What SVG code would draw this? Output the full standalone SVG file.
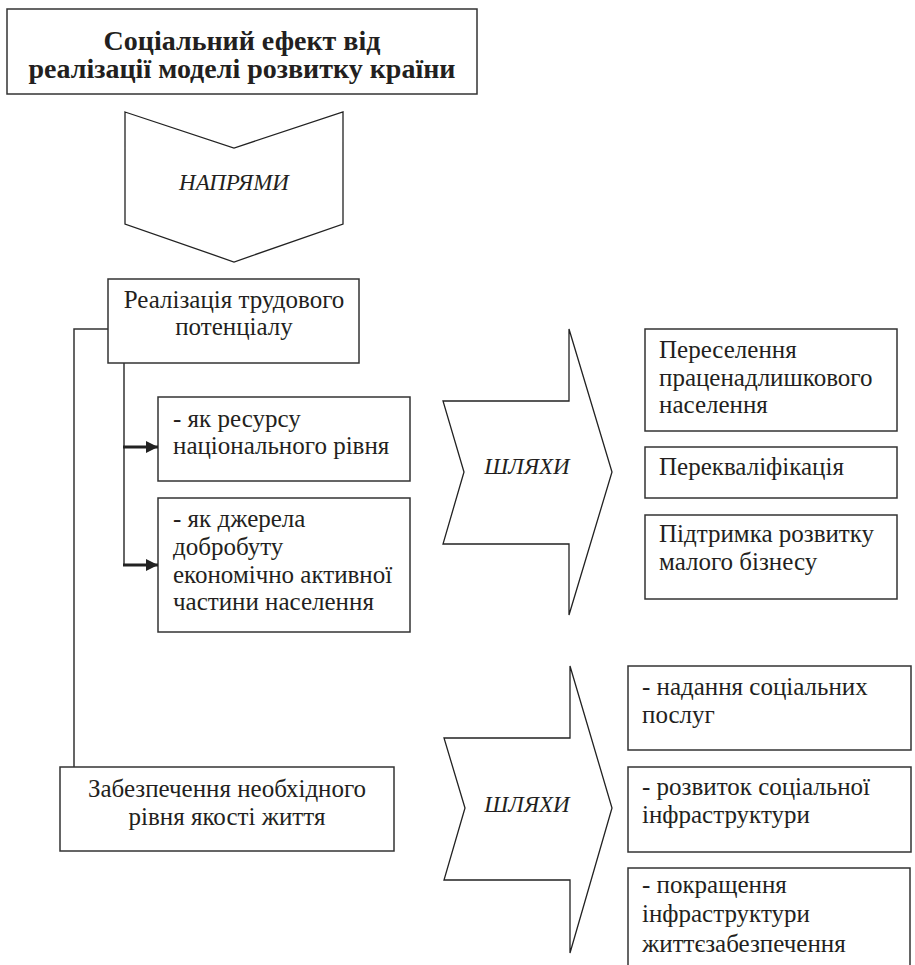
<svg xmlns="http://www.w3.org/2000/svg" width="915" height="965" viewBox="0 0 915 965">
<defs>
<style>
.box{fill:#fff;stroke:#333;stroke-width:1.5}
.shape{fill:#fff;stroke:#222;stroke-width:1.3}
.t{font-size:25px;fill:#231f20}
.title{font-size:28px;font-weight:bold;fill:#231f20}
.it{font-size:23px;font-style:italic;fill:#231f20}
.c{text-anchor:middle}
.line{fill:none;stroke:#333;stroke-width:1.5}
.thick{fill:none;stroke:#222;stroke-width:3}
</style>
<marker id="ah" viewBox="0 0 10 10" refX="10" refY="5" markerWidth="4" markerHeight="4" markerUnits="strokeWidth" orient="auto">
<path d="M0,0 L10,5 L0,10 z" fill="#222"/>
</marker>
</defs>
<rect width="915" height="965" fill="#fff"/>
<g font-family="'Liberation Serif', Tinos, 'Times New Roman', serif">
<g id="title">
<rect class="box" x="7" y="9" width="470" height="85"/>
<text class="title c" x="242" y="50">Соціальний ефект від</text>
<text class="title c" x="242" y="78">реалізації моделі розвитку країни</text>
</g>

<g id="napryamy">
<polygon class="shape" points="125,112 234,148 343,112 343,224 234,262 125,224"/>
<text class="it c" x="234" y="190">НАПРЯМИ</text>
</g>

<g id="labour">
<rect class="box" x="108" y="279" width="251" height="84"/>
<text class="t c" x="234" y="308">Реалізація трудового</text>
<text class="t c" x="234" y="335">потенціалу</text>
</g>

<g id="resource">
<rect class="box" x="158" y="397" width="252" height="84"/>
<text class="t" x="173" y="427">- як ресурсу</text>
<text class="t" x="173" y="454">національного рівня</text>
</g>

<g id="wellbeing">
<rect class="box" x="158" y="498" width="252" height="134"/>
<text class="t" x="173" y="527">- як джерела</text>
<text class="t" x="173" y="555">добробуту</text>
<text class="t" x="173" y="583">економічно активної</text>
<text class="t" x="173" y="610">частини населення</text>
</g>

<g id="quality">
<rect class="box" x="60" y="767" width="334" height="84"/>
<text class="t c" x="227" y="797">Забезпечення необхідного</text>
<text class="t c" x="227" y="825">рівня якості життя</text>
</g>

<g id="shlyakhy1">
<polygon class="shape" points="443,401 569,401 569,329 612,472 569,615 569,544 443,544 464,472"/>
<text class="it c" x="527" y="474">ШЛЯХИ</text>
</g>

<g id="shlyakhy2">
<polygon class="shape" points="444,738 570,738 570,666 612,808 570,953 570,880 444,880 465,808"/>
<text class="it c" x="527" y="812">ШЛЯХИ</text>
</g>

<g id="resettle">
<rect class="box" x="645" y="329" width="252" height="102"/>
<text class="t" x="659" y="358">Переселення</text>
<text class="t" x="659" y="386">праценадлишкового</text>
<text class="t" x="659" y="413">населення</text>
</g>

<g id="retrain">
<rect class="box" x="645" y="447" width="252" height="51"/>
<text class="t" x="659" y="475">Перекваліфікація</text>
</g>

<g id="smallbiz">
<rect class="box" x="645" y="515" width="252" height="84"/>
<text class="t" x="659" y="542">Підтримка розвитку</text>
<text class="t" x="659" y="570">малого бізнесу</text>
</g>

<g id="services">
<rect class="box" x="628" y="666" width="283" height="84"/>
<text class="t" x="642" y="695">- надання соціальних</text>
<text class="t" x="642" y="723">послуг</text>
</g>

<g id="socinfra">
<rect class="box" x="628" y="767" width="283" height="85"/>
<text class="t" x="642" y="795">- розвиток соціальної</text>
<text class="t" x="642" y="823">інфраструктури</text>
</g>

<g id="lifeinfra">
<rect class="box" x="628" y="868" width="282" height="110"/>
<text class="t" x="642" y="893">- покращення</text>
<text class="t" x="642" y="922">інфраструктури</text>
<text class="t" x="642" y="952">життєзабезпечення</text>
</g>
</g>
<g id="connectors">
<polyline class="line" points="108,329 74,329 74,767"/>
<polyline class="line" points="124,363 124,565"/>
<line class="thick" x1="123" y1="447" x2="158" y2="447" marker-end="url(#ah)"/>
<line class="thick" x1="123" y1="565" x2="158" y2="565" marker-end="url(#ah)"/>
</g>
</svg>
